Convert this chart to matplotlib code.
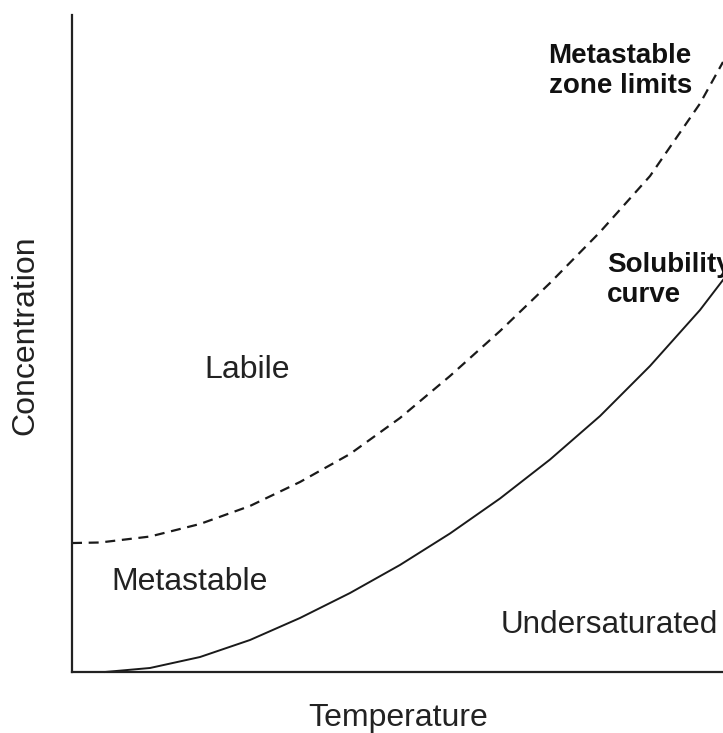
import matplotlib
matplotlib.use("Agg")
import matplotlib.pyplot as plt

plt.rcParams['font.family'] = ['Liberation Sans', 'DejaVu Sans']

# Data (arbitrary units: temperature 0-100, concentration 0-100)
solubility_T = [5.07, 11.98, 19.66, 27.34, 35.02, 42.70, 50.38, 58.06, 65.75,
                73.43, 81.11, 88.79, 96.47, 100.0]
solubility_C = [0.0, 0.61, 2.28, 4.87, 8.22, 12.02, 16.29, 21.08, 26.41,
                32.34, 38.96, 46.58, 55.10, 59.67]

msz_T = [0.0, 4.30, 11.98, 19.66, 27.34, 35.02, 42.70, 50.38, 58.06, 65.75,
         73.43, 81.11, 88.79, 96.47, 100.0]
msz_C = [19.63, 19.71, 20.62, 22.53, 25.27, 28.92, 33.18, 38.66, 45.05, 51.90,
         59.21, 66.97, 75.49, 86.53, 92.85]

fig = plt.figure(figsize=(7.23, 7.33), dpi=100)
ax = fig.add_axes([72/723, 61/733, 1 - 72/723, (672-15)/733])
ax.set_xlim(0, 100)
ax.set_ylim(0, 100)

ax.plot(solubility_T, solubility_C, color='#1a1a1a', lw=1.4, solid_joinstyle='round', clip_on=False)
ax.plot(msz_T, msz_C, color='#1a1a1a', lw=1.6, dashes=(4.5, 3.0), clip_on=False)

for s in ['top', 'right']:
    ax.spines[s].set_visible(False)
for s in ['left', 'bottom']:
    ax.spines[s].set_linewidth(1.6)
    ax.spines[s].set_color('#222222')
ax.set_xticks([])
ax.set_yticks([])

fig.text(398/723, 1 - 718/733, 'Temperature', fontsize=23, ha='center', va='center', color='#222222')
fig.text(25/723, 1 - 335/733, 'Concentration', fontsize=23, rotation=90,
         ha='center', va='center', color='#222222')

ax.text(26.9, 46.0, 'Labile', fontsize=23, ha='center', va='center', color='#222222')
ax.text(18.0, 13.7, 'Metastable', fontsize=23, ha='center', va='center', color='#222222')
ax.text(82.6, 7.2, 'Undersaturated', fontsize=22.7, ha='center', va='center', color='#222222')
ax.text(84.2, 91.5, 'Metastable\nzone limits', fontsize=20, fontweight='bold', ha='center', va='center',
        linespacing=1.2, color='#111111')
ax.text(82.2, 59.6, 'Solubility\ncurve', fontsize=20, fontweight='bold', ha='left', va='center',
        linespacing=1.2, color='#111111')

fig.savefig('out.png', dpi=100)
